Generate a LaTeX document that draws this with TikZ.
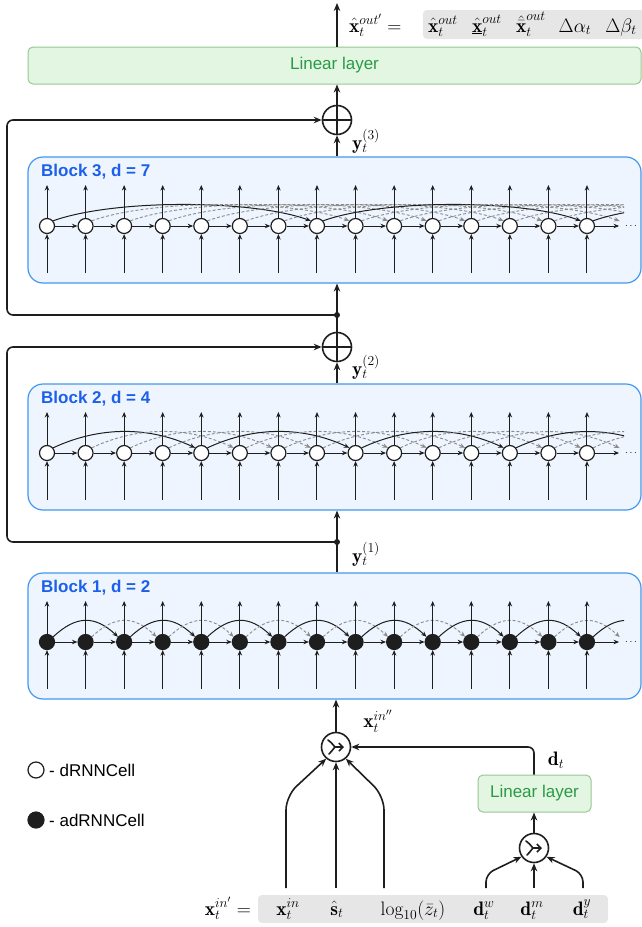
\RequirePackage{fix-cm}
\documentclass[tikz,border=0pt]{standalone}
\usepackage{fontspec}
\usetikzlibrary{arrows.meta,calc}
\newfontfamily\sansfont{Liberation Sans}
\newcommand\mathsz{\fontsize{19.5}{23}\selectfont}
\newcommand\sanssz{\sansfont\fontsize{17}{20}\selectfont}
\definecolor{blockfill}{HTML}{EEF5FE}
\definecolor{blockline}{HTML}{4298F0}
\definecolor{blocktext}{HTML}{1C60EA}
\definecolor{linfill}{HTML}{E3F6E1}
\definecolor{linline}{HTML}{98C795}
\definecolor{lintext}{HTML}{2B9A47}
\definecolor{inkc}{HTML}{1E1E1E}
\definecolor{skipgray}{HTML}{8A8A8A}
\definecolor{vecbox}{HTML}{E6E6E6}
\pgfdeclarelayer{boxes}
\pgfdeclarelayer{arcs}
\pgfsetlayers{boxes,arcs,main}

\begin{document}
\begin{tikzpicture}[x=1pt,y=-1pt,
  blockbox/.style={draw=blockline, fill=blockfill, line width=1.2pt, rounded corners=15pt,
    minimum width=613pt, minimum height=126pt, inner sep=0pt},
  blocktitle/.style={font=\sansfont\bfseries\fontsize{17}{20}\selectfont, text=blocktext, inner sep=0pt},
  linbox/.style={draw=linline, fill=linfill, line width=1pt, rounded corners=5pt, inner sep=0pt,
    font=\sanssz, text=lintext},
  cellw/.style={circle, draw=inkc, fill=white, line width=1.2pt, minimum size=15pt, inner sep=0pt},
  ghost/.style={circle, minimum size=15pt, inner sep=0pt},
  cellarrow/.style={draw=inkc, line width=1pt, -{Stealth[length=5.5pt,width=4.5pt]}},
  flow/.style={draw=inkc, line width=1.6pt, -{Stealth[length=8pt,width=6.5pt]}},
  skipsolid/.style={draw=inkc, line width=1pt, -{Stealth[length=5.5pt,width=4.5pt]}},
  skipdash/.style={draw=skipgray, line width=0.9pt, dash pattern=on 3pt off 2pt,
    -{Stealth[length=5.5pt,width=4.5pt]}},
  sumnode/.style={circle, draw=inkc, line width=1.6pt, minimum size=29pt, inner sep=0pt, fill=white},
  joint/.style={circle, fill=inkc, minimum size=6pt, inner sep=0pt},
  mathlbl/.style={font=\mathsz, inner sep=0pt},
  vecbg/.style={fill=vecbox, rounded corners=4pt, inner sep=0pt},
  concatsym/.pic={
    \draw[line width=1.6pt, draw=inkc, line cap=round] (-8,-7) .. controls (-4,-4) and (-2,-1) .. (-1,0);
    \draw[line width=1.6pt, draw=inkc, line cap=round] (-7,7) .. controls (-4,4) and (-2,1) .. (-1,0);
    \draw[line width=1.6pt, draw=inkc, line cap=round, -{Straight Barb[length=4pt,width=8pt]}] (-1.5,0) -- (8,0);
  }]
\useasboundingbox (0,0) rectangle (642,927);

% ---------- output head ----------
\node[linbox, minimum width=613pt, minimum height=37pt] (ll1) at (334.5,65.5) {Linear layer};
\coordinate (outtip) at (337,3);
\draw[flow] (ll1.north -| outtip) -- (outtip);
\node[mathlbl, anchor=base west] (outlbl) at (349,32) {$\hat{\mathbf{x}}_t^{out'} =$};
\node[vecbg, minimum width=222pt, minimum height=29pt] (outvec) at (534,24.5) {};
\node[mathlbl, anchor=base] (o1) at (443,32) {$\hat{\mathbf{x}}_t^{out}$};
\node[mathlbl, anchor=base] (o2) at (487,32) {$\underline{\hat{\mathbf{x}}}_t^{out}$};
\node[mathlbl, anchor=base] (o3) at (531,32) {$\hat{\bar{\mathbf{x}}}_t^{out}$};
\node[mathlbl, anchor=base] (o4) at (575,32) {$\Delta\alpha_t$};
\node[mathlbl, anchor=base] (o5) at (621,32) {$\Delta\beta_t$};

% ---------- residual sums ----------
\node[sumnode] (p3) at (337,120) {};
\draw[line width=1.6pt, draw=inkc] (p3.north) -- (p3.south) (p3.west) -- (p3.east);
\node[sumnode] (p2) at (337,347) {};
\draw[line width=1.6pt, draw=inkc] (p2.north) -- (p2.south) (p2.west) -- (p2.east);
\draw[flow] (p3.north) -- (p3 |- ll1.south);

% ---------- dilated blocks ----------
\foreach \T/\dd/\k/\cf in {157/7/3/white,384/4/2/white,573/2/1/inkc}{
  \pgfmathsetmacro\cy{\T+69}
  \pgfmathsetmacro\by{\T+63}
  \pgfmathsetmacro\cc{min(0.3*38.57*\dd,60)}
  \begin{pgfonlayer}{boxes}
    \node[blockbox] (b\k) at (334.5,\by) {};
  \end{pgfonlayer}
  \node[blocktitle, anchor=base west] (t\k) at (41,\T+19) {Block \k, d = \dd};
  % cells of the block
  \foreach \i in {0,...,14}{
    \pgfmathsetmacro\cx{47+38.57*\i}
    \node[cellw, fill=\cf] (c\k-\i) at (\cx,\cy) {};
    \draw[cellarrow] (c\k-\i.north) -- ($(c\k-\i.center)+(0,-41)$);
    \draw[cellarrow] ($(c\k-\i.center)+(0,47)$) -- (c\k-\i.south);
  }
  % positions past the right edge, for the skip links that leave the block
  \foreach \j in {15,...,21}{
    \pgfmathsetmacro\cx{47+38.57*\j}
    \node[ghost] (g\k-\j) at (\cx,\cy) {};
  }
  % recurrent links
  \foreach \i in {0,...,13}{
    \pgfmathtruncatemacro\n{\i+1}
    \draw[cellarrow] (c\k-\i.east) -- (c\k-\n.west);
  }
  \draw[cellarrow] (c\k-14.east) -- ++(24,0) coordinate (e\k);
  \node[font=\fontsize{10}{12}\selectfont, inner sep=0pt] (dots\k) at (631,\cy) {$\cdots$};
  % dilated skip links
  \begin{pgfonlayer}{arcs}
    \begin{scope}
      \clip (28,\T) rectangle (624,\T+126);
      \foreach \i in {0,...,14}{
        \pgfmathtruncatemacro\j{\i+\dd}
        \pgfmathtruncatemacro\m{mod(\i,\dd)}
        \ifnum\j<15 \def\tgt{c\k-\j}\else\def\tgt{g\k-\j}\fi
        \ifnum\m=0 \def\arcst{skipsolid}\else\def\arcst{skipdash}\fi
        \draw[\arcst] (c\k-\i.40) .. controls +(\cc,-21.6) and +(-\cc,-21.6) .. (\tgt.140);
      }
    \end{scope}
  \end{pgfonlayer}
}

% ---------- connections between blocks ----------
\draw[flow] (b3.north -| p3) -- (p3.south);
\node[mathlbl] (y3) at (366,141) {$\mathbf{y}_t^{(3)}$};
\draw[flow] (b2.north -| p2) -- (p2.south);
\draw[flow] (p2.north) -- (b3.south -| p2);
\node[mathlbl] (y2) at (366,367) {$\mathbf{y}_t^{(2)}$};
\node[joint] (j3) at (337,315) {};
\coordinate (lp3) at (7,200);
\draw[flow, rounded corners=6pt] (j3.center) -| (lp3) |- (p3.west);

\draw[flow] (b1.north -| p2) -- (b2.south -| p2);
\node[mathlbl] (y1) at (366,554) {$\mathbf{y}_t^{(1)}$};
\node[joint] (j2) at (337,542) {};
\coordinate (lp2) at (7,440);
\draw[flow, rounded corners=6pt] (j2.center) -| (lp2) |- (p2.west);

% ---------- input side ----------
\node[sumnode] (k1) at (336,747) {};
\pic at (k1.center) {concatsym};
\draw[flow] (k1.north) -- (b1.south -| k1);
\node[mathlbl] (xin2) at (378,721) {$\mathbf{x}_t^{in''}$};

\node[linbox, minimum width=113pt, minimum height=37pt] (ll2) at (534.5,793.5) {Linear layer};
\node[sumnode] (ks) at (534,848) {};
\pic at (ks.center) {concatsym};
\draw[flow] (ks.north) -- (ll2.south -| ks);
\draw[flow, rounded corners=6pt] (ll2.north -| ks) |- (k1.east);
\node[mathlbl] (dt) at (556,760) {$\mathbf{d}_t$};

\node[vecbg, minimum width=350pt, minimum height=28pt] (invec) at (433,909) {};
\node[mathlbl, anchor=base east] (inlbl) at (251,915) {$\mathbf{x}_t^{in'} =$};
\node[mathlbl, anchor=base] (v1) at (288,915) {$\mathbf{x}_t^{in}$};
\node[mathlbl, anchor=base] (v2) at (337,915) {$\hat{\mathbf{s}}_t$};
\node[mathlbl, anchor=base] (v3) at (413,915) {$\log_{10}(\bar{z}_t)$};
\node[mathlbl, anchor=base] (v4) at (484,915) {$\mathbf{d}_t^{w}$};
\node[mathlbl, anchor=base] (v5) at (532,915) {$\mathbf{d}_t^{m}$};
\node[mathlbl, anchor=base] (v6) at (582,915) {$\mathbf{d}_t^{y}$};

\coordinate (f1) at (286,888);
\coordinate (f2) at (336,888);
\coordinate (f3) at (384,888);
\coordinate (f4) at (486,888);
\coordinate (f5) at (534,888);
\coordinate (f6) at (583,888);
\draw[flow, rounded corners=14pt] (f1) -- ++(0,-92) -- (k1.230);
\draw[flow] (f2) -- (k1.south);
\draw[flow, rounded corners=14pt] (f3) -- ++(0,-92) -- (k1.-50);
\draw[flow, rounded corners=8pt] (f4) -- ++(0,-14) -- (ks.215);
\draw[flow] (f5) -- (ks.south);
\draw[flow, rounded corners=8pt] (f6) -- ++(0,-14) -- (ks.-35);

% ---------- legend ----------
\node[cellw, minimum size=16pt] (lg1) at (36,770) {};
\node[anchor=west, font=\sanssz, inner sep=0pt] (lt1) at (49,770) {- dRNNCell};
\node[cellw, fill=inkc, minimum size=16pt] (lg2) at (36,820) {};
\node[anchor=west, font=\sanssz, inner sep=0pt] (lt2) at (49,820) {- adRNNCell};
\end{tikzpicture}
\end{document}
